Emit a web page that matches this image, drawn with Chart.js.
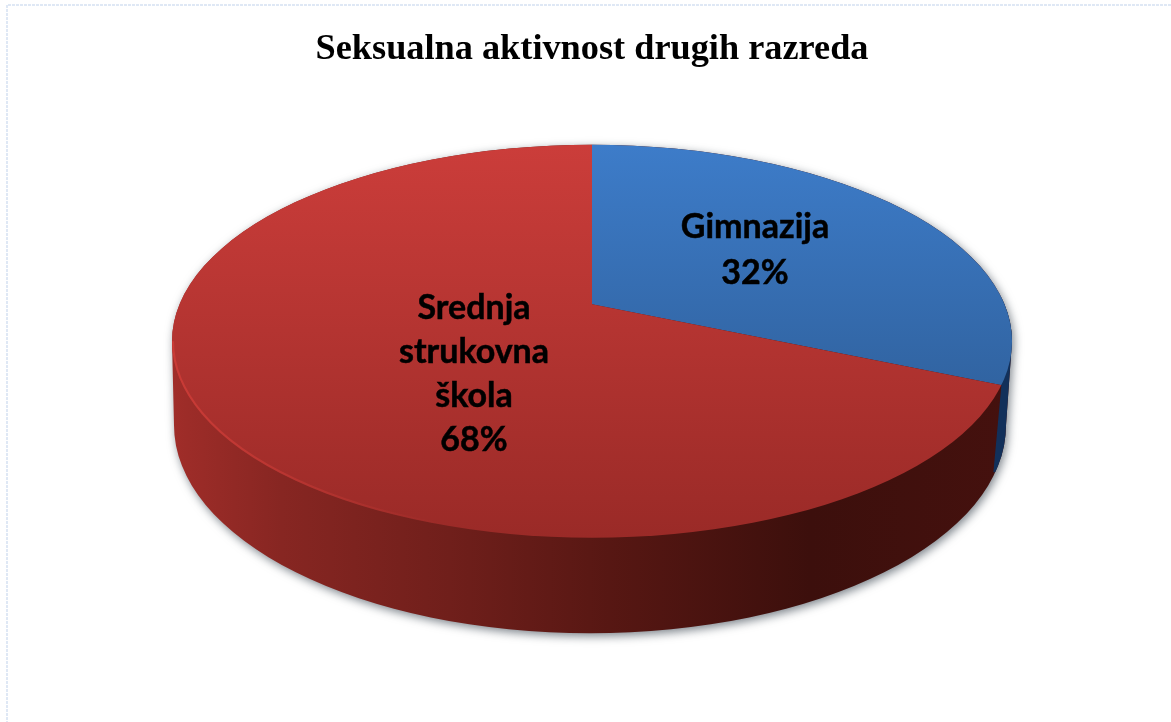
<!DOCTYPE html>
<html>
<head>
<meta charset="utf-8">
<style>
body { margin: 0; background: #fff; }
canvas { display: block; }
</style>
<script src="https://cdn.jsdelivr.net/npm/chart.js@4"></script>
</head>
<body>
<canvas id="pie" width="1171" height="722"></canvas>
<script>
const chartTitle = 'Seksualna aktivnost drugih razreda';
const categories = ['Gimnazija', 'Srednja strukovna škola'];
const values = [32, 68];
const labelLines = [['Gimnazija', '32%'], ['Srednja', 'strukovna', 'škola', '68%']];

// the look of the tilted disc, measured from the slices' common centre
const squash = 0.42;
const topFace = { cy: 37, rx: 420, ry: 196.5 };
const bottomFace = { cx: -2, cy: 121, rx: 416, ry: 208 };
const labelSpots = [{ x: 163, y: -80, pitch: 46 }, { x: -118, y: 1, pitch: 44 }];

// slice gradients run top to bottom on the screen, the arcs are drawn stretched
function sliceGradient(chart, stops) {
    if (!chart.chartArea) return stops[0];
    let { top, bottom } = chart.chartArea;
    let cy = (top + bottom) / 2;
    let y = v => cy + v / squash;
    let g = chart.ctx.createLinearGradient(0, y(-159), 0, y(234));
    g.addColorStop(0, stops[0]);
    g.addColorStop(1, stops[1]);
    return g;
}

function wallPath(ctx, o) {
    ctx.beginPath();
    ctx.ellipse(o.x + bottomFace.cx, o.y + bottomFace.cy, bottomFace.rx, bottomFace.ry, 0, 0, Math.PI);
    ctx.ellipse(o.x, o.y + topFace.cy, topFace.rx, topFace.ry, 0, Math.PI, Math.PI * 2);
    ctx.closePath();
}

// where the edge between two slices meets the rim of the top face
function rimPoint(o, angle) {
    let c = Math.cos(angle), s = Math.sin(angle) * squash;
    let A = c * c / (topFace.rx * topFace.rx) + s * s / (topFace.ry * topFace.ry);
    let B = -2 * s * topFace.cy / (topFace.ry * topFace.ry);
    let C = topFace.cy * topFace.cy / (topFace.ry * topFace.ry) - 1;
    let t = (-B + Math.sqrt(B * B - 4 * A * C)) / (2 * A);
    return { x: o.x + t * c, y: o.y + t * s };
}

const disc3d = {
    id: 'disc3d',
    beforeDraw(chart) {
        let ctx = chart.ctx;
        ctx.save();
        ctx.strokeStyle = '#dfe8f5';
        ctx.lineWidth = 2;
        ctx.setLineDash([3, 1]);
        ctx.beginPath();
        ctx.moveTo(chart.width, 5);
        ctx.lineTo(7, 5);
        ctx.lineTo(7, chart.height);
        ctx.stroke();
        ctx.restore();
    },
    beforeDatasetsDraw(chart) {
        let ctx = chart.ctx;
        let arcs = chart.getDatasetMeta(0).data;
        let o = arcs[0];

        // side wall with its soft shadow
        let wall = ctx.createLinearGradient(o.x - 420, 0, o.x + 420, 0);
        wall.addColorStop(0, '#a02d29');
        wall.addColorStop(0.13, '#872622');
        wall.addColorStop(0.33, '#701f1b');
        wall.addColorStop(0.52, '#571713');
        wall.addColorStop(0.76, '#3c0f0c');
        wall.addColorStop(1, '#45110e');
        ctx.save();
        ctx.shadowColor = 'rgba(70,80,90,0.7)';
        ctx.shadowBlur = 10;
        ctx.shadowOffsetX = 2;
        ctx.shadowOffsetY = 3;
        wallPath(ctx, o);
        ctx.fillStyle = wall;
        ctx.fill();
        ctx.restore();

        // the part of the wall that belongs to the first slice
        let seam = rimPoint(o, arcs[0].endAngle);
        ctx.save();
        ctx.beginPath();
        ctx.moveTo(seam.x, seam.y);
        ctx.lineTo(seam.x - 8, seam.y + 87);
        ctx.lineTo(chart.width, seam.y + 87);
        ctx.lineTo(chart.width, 0);
        ctx.lineTo(seam.x, 0);
        ctx.closePath();
        ctx.clip();
        wallPath(ctx, o);
        ctx.fillStyle = '#12305a';
        ctx.fill();
        ctx.restore();

        // slices are cut by the rim and drawn around an off-centre point
        ctx.save();
        ctx.beginPath();
        ctx.ellipse(o.x, o.y + topFace.cy, topFace.rx, topFace.ry, 0, 0, Math.PI * 2);
        ctx.clip();
        ctx.translate(o.x, o.y);
        ctx.scale(1, squash);
        ctx.translate(-o.x, -o.y);
    },
    afterDatasetsDraw(chart) {
        let ctx = chart.ctx;
        ctx.restore();
        let arcs = chart.getDatasetMeta(0).data;
        let o = arcs[0];

        // light rim on the lower left of the top face
        let rim = ctx.createLinearGradient(o.x - 420, 0, o.x - 150, 0);
        rim.addColorStop(0, 'rgba(205,60,55,0.9)');
        rim.addColorStop(1, 'rgba(205,60,55,0)');
        ctx.save();
        ctx.strokeStyle = rim;
        ctx.lineWidth = 2;
        ctx.beginPath();
        ctx.ellipse(o.x, o.y + topFace.cy, topFace.rx - 1, topFace.ry - 1, 0, Math.PI / 2, Math.PI);
        ctx.stroke();

        ctx.fillStyle = '#000';
        ctx.strokeStyle = '#000';
        ctx.lineWidth = 0.5;
        ctx.font = 'bold 34px Lato';
        ctx.textAlign = 'center';
        ctx.textBaseline = 'alphabetic';
        labelLines.forEach((lines, i) => {
            lines.forEach((line, n) => {
                let x = o.x + labelSpots[i].x;
                let y = o.y + labelSpots[i].y + 14 + n * labelSpots[i].pitch;
                ctx.fillText(line, x, y);
                ctx.strokeText(line, x, y);
            });
        });
        ctx.restore();
    }
};

new Chart('pie', {
    type: 'pie',
    data: {
        labels: categories,
        datasets: [{
            data: values,
            clip: false,
            borderWidth: 0,
            backgroundColor: ctx => sliceGradient(ctx.chart, ctx.dataIndex === 0 ? ['#3d7cc9', '#295488'] : ['#cb3d3a', '#9a2a27']),
        }]
    },
    options: {
        responsive: false,
        animation: false,
        events: [],
        radius: 640,
        layout: { padding: { left: 13, bottom: 191 } },
        plugins: {
            legend: { display: false },
            tooltip: { enabled: false },
            title: {
                display: true,
                text: chartTitle,
                color: '#000',
                font: { family: 'Liberation Serif', size: 36.3, weight: 'bold' },
                padding: { top: 28, bottom: 6 },
            },
        },
    },
    plugins: [disc3d],
});
</script>
</body>
</html>
